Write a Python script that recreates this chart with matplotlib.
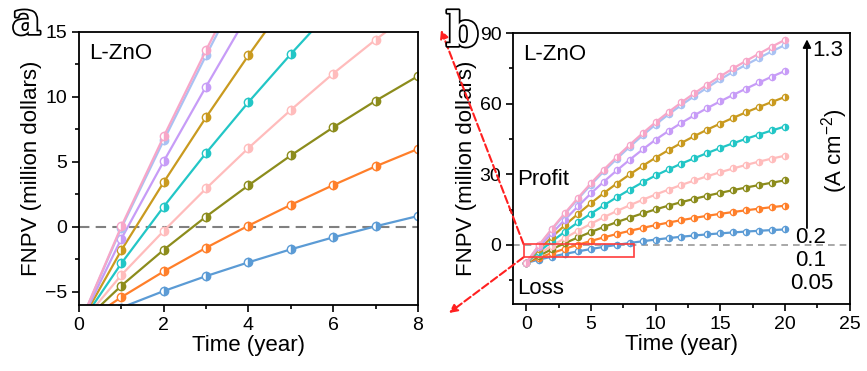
import matplotlib.pyplot as plt
import matplotlib.patheffects as pe
from matplotlib.patches import Rectangle
from matplotlib.ticker import MultipleLocator

plt.rcParams['font.family'] = ['Liberation Sans', 'DejaVu Sans']
plt.rcParams['mathtext.fontset'] = 'custom'
plt.rcParams['mathtext.rm'] = 'Liberation Sans'

years = list(range(21))

# FNPV (million dollars), lowest current density (0.05 A cm-2) first, 1.3 A cm-2 last
fnpv_1 = [-7.6, -6.2, -4.93, -3.78, -2.72, -1.72, -0.8, 0.05, 0.84, 1.58, 2.28,
          2.92, 3.5, 4.03, 4.5, 4.93, 5.33, 5.7, 6.03, 6.33, 6.6]
fnpv_2 = [-7.6, -5.4, -3.42, -1.6, 0.1, 1.7, 3.22, 4.66, 6.0, 7.25, 8.42,
          9.52, 10.55, 11.5, 12.4, 13.23, 14.0, 14.73, 15.42, 16.07, 16.68]
fnpv_3 = [-7.6, -4.52, -1.76, 0.8, 3.2, 5.5, 7.66, 9.7, 11.6, 13.4, 15.1,
          16.7, 18.2, 19.6, 20.92, 22.15, 23.3, 24.4, 25.45, 26.45, 27.45]
fnpv_4 = [-7.6, -3.7, -0.3, 2.96, 6.07, 9.0, 11.8, 14.4, 16.85, 19.2, 21.4,
          23.5, 25.5, 27.4, 29.2, 30.9, 32.5, 34.0, 35.4, 36.7, 37.9]
fnpv_5 = [-7.6, -2.8, 1.56, 5.69, 9.6, 13.3, 16.85, 20.25, 23.5, 26.6, 29.5,
          32.1, 34.55, 36.85, 39.05, 41.2, 43.2, 45.1, 46.9, 48.65, 50.3]
fnpv_6 = [-7.6, -1.79, 3.44, 8.44, 13.2, 17.75, 22.05, 26.1, 29.95, 33.6, 37.05,
          40.3, 43.35, 46.25, 49.0, 51.55, 54.0, 56.35, 58.6, 60.75, 62.85]
fnpv_7 = [-7.6, -0.9, 5.05, 10.8, 16.4, 21.9, 26.9, 31.65, 36.2, 40.55, 44.7,
          48.4, 51.85, 55.1, 58.15, 61.0, 63.75, 66.4, 69.0, 71.5, 73.9]
fnpv_8 = [-7.6, -0.08, 6.66, 13.2, 19.5, 25.55, 31.25, 36.6, 41.7, 46.55, 51.15,
          55.45, 59.45, 63.25, 66.85, 70.35, 73.55, 76.55, 79.45, 82.25, 84.9]
fnpv_9 = [-7.6, 0.05, 6.96, 13.6, 20.0, 26.2, 32.0, 37.4, 42.55, 47.45, 52.1,
          56.45, 60.55, 64.45, 68.1, 71.6, 75.0, 78.2, 81.25, 84.25, 87.1]

series = [fnpv_1, fnpv_2, fnpv_3, fnpv_4, fnpv_5, fnpv_6, fnpv_7, fnpv_8, fnpv_9]
colors = ['#5b9bd5', '#ff7f2a', '#8c8c1c', '#ffbcbc', '#22c6c6',
          '#c99a1f', '#c79cf7', '#a9c2f3', '#f7a6c8']


def style_axes(ax):
    for sp in ax.spines.values():
        sp.set_linewidth(1.3)
    ax.tick_params(which='both', direction='out', labelsize=14, width=1.2,
                   top=False, right=False)
    ax.tick_params(which='major', length=5)
    ax.tick_params(which='minor', length=3)


fig = plt.figure(figsize=(8.67, 3.71), dpi=100)
ax1 = fig.add_axes([0.0911, 0.178, 0.391, 0.736])
ax2 = fig.add_axes([0.592, 0.181, 0.388, 0.730])

# panel a: first eight years
for y, c in zip(series, colors):
    ax1.plot(years, y, '-o', color=c, lw=1.6, ms=6, mec=c, mew=1.0,
             fillstyle='right', markerfacecoloralt='white')
ax1.axhline(0, color='#808080', ls=(0, (5, 3)), lw=1.5, zorder=0)
ax1.set_xlim(0, 8)
ax1.set_ylim(-6, 15)
ax1.xaxis.set_major_locator(MultipleLocator(2))
ax1.xaxis.set_minor_locator(MultipleLocator(1))
ax1.yaxis.set_major_locator(MultipleLocator(5))
ax1.yaxis.set_minor_locator(MultipleLocator(2.5))
ax1.set_xlabel('Time (year)', fontsize=16, labelpad=1)
ax1.set_ylabel('FNPV (million dollars)', fontsize=16, labelpad=2)
ax1.text(0.03, 0.92, 'L-ZnO', transform=ax1.transAxes, fontsize=16,
         va='center')
style_axes(ax1)

# panel b: full 20 years
for y, c in zip(series, colors):
    ax2.plot(years, y, '-o', color=c, lw=1.6, ms=4.5, mec=c, mew=0.9,
             fillstyle='right', markerfacecoloralt='white')
ax2.axhline(0, color='#999999', ls=(0, (4, 3)), lw=1.2, zorder=0)
ax2.set_xlim(-1, 25)
ax2.set_ylim(-25, 90)
ax2.xaxis.set_major_locator(MultipleLocator(5))
ax2.xaxis.set_minor_locator(MultipleLocator(2.5))
ax2.yaxis.set_major_locator(MultipleLocator(30))
ax2.yaxis.set_minor_locator(MultipleLocator(15))
ax2.set_xlabel('Time (year)', fontsize=16, labelpad=1)
ax2.set_ylabel('FNPV (million dollars)', fontsize=16, labelpad=2)
ax2.text(0.03, 0.92, 'L-ZnO', transform=ax2.transAxes, fontsize=16,
         va='center')
ax2.text(-0.7, 28, 'Profit', fontsize=16, va='center')
ax2.text(-0.7, -18.5, 'Loss', fontsize=16, va='center')
style_axes(ax2)

# zoom box around the region shown in panel a
ax2.add_patch(Rectangle((-0.2, -5.2), 8.5, 5.5, fill=False,
                        ec='#ff3c3c', lw=1.2, zorder=5))

# current density arrow and labels
ax2.annotate('', xy=(21.7, 88.5), xytext=(21.7, 6.0),
             arrowprops=dict(arrowstyle='-|>', color='black', lw=1.3,
                             mutation_scale=12))
ax2.text(22.1, 82.5, '1.3', fontsize=16, va='center')
ax2.text(22.0, 3.3, '0.2', fontsize=16, ha='center', va='center')
ax2.text(22.0, -6.5, '0.1', fontsize=16, ha='center', va='center')
ax2.text(22.1, -16.3, '0.05', fontsize=16, ha='center', va='center')
ax2.text(23.85, 40, '(A cm$^{-2}$)', fontsize=16, rotation=90,
         ha='center', va='center')

# dashed red arrows linking the two panels
red_arrow = dict(arrowstyle='-|>', color='#ff2020', lw=1.5, ls='--',
                 mutation_scale=12, shrinkA=0, shrinkB=0)
ax2.annotate('', xy=(441 / 867, 1 - 30 / 371), xycoords='figure fraction',
             xytext=(-0.2, 0.3), textcoords='data',
             arrowprops=red_arrow, annotation_clip=False)
ax2.annotate('', xy=(449 / 867, 1 - 313 / 371), xycoords='figure fraction',
             xytext=(-0.2, -5.2), textcoords='data',
             arrowprops=red_arrow, annotation_clip=False)

# panel letters
outline = [pe.withStroke(linewidth=2.5, foreground='black')]
fig.text(12 / 867, 1 - 34 / 371, 'a', fontsize=32, family='DejaVu Serif',
         weight='bold', color='white', path_effects=outline)
fig.text(446 / 867, 1 - 46 / 371, 'b', fontsize=34, family='DejaVu Serif',
         weight='bold', color='white', path_effects=outline)

fig.savefig('out.png', dpi=100)
